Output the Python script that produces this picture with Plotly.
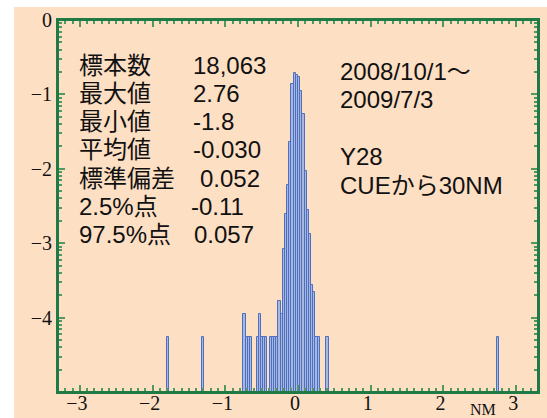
import math
import plotly.graph_objects as go

# Sample size and histogram of the deviation (NM), 0.03 NM bins
N_SAMPLES = 18063
BIN_WIDTH = 0.03
bin_start = [-1.80, -1.32,
             -0.75, -0.72, -0.69, -0.66, -0.57, -0.54, -0.51, -0.48, -0.45,
             -0.39, -0.36, -0.33, -0.30, -0.27, -0.24, -0.21, -0.18, -0.15,
             -0.12, -0.09, -0.06, -0.03, 0.00, 0.03, 0.06, 0.09, 0.12, 0.15,
             0.18, 0.21, 0.24, 0.27, 0.39, 2.73]
bin_count = [1, 1,
             2, 1, 1, 1, 1, 2, 1, 1, 1,
             1, 1, 1, 1, 3, 2, 15, 45, 110,
             420, 2500, 3470, 3300, 3070, 2000, 1000, 170, 50, 24,
             5, 4, 1, 1, 1, 1]

# Summary statistics block
stat_labels = ["標本数", "最大値", "最小値", "平均値", "標準偏差", "2.5%点", "97.5%点"]
stat_values = ["18,063", "2.76", "-1.8", "-0.030", "0.052", "-0.11", "0.057"]
note_lines = ["2008/10/1～", "2009/7/3", "", "Y28", "CUEから30NM"]

# y axis: log10 of relative frequency
y_exponents = [0, -1, -2, -3, -4]
LOG_FLOOR = -5

W, H = 547, 418
ML, MR, MT, MB = 58, 9, 20, 26
PW, PH = W - ML - MR, H - MT - MB


def px_x(px):
    return (px - ML) / PW


def px_y(py):
    return (H - MB - py) / PH


centers = [s + BIN_WIDTH / 2 for s in bin_start]
log_freq = [math.log10(c / N_SAMPLES) for c in bin_count]
# bars rise from the bottom of the log scale
bar_len = [v - LOG_FLOOR for v in log_freq]

# minor log ticks: 2..9 within each decade
minor_log = [e + math.log10(k) for e in range(LOG_FLOOR, 0) for k in range(2, 10)]

AXIS_GREEN = "#1f7a45"
TICK_GREEN = "#4f9a60"
PEACH = "#FDDFC4"
TEXT_FONT = "Liberation Sans, Noto Sans CJK JP, sans-serif"
TICK_FONT = dict(family="Liberation Serif, DejaVu Serif, serif", size=20, color="#111111")

fig = go.Figure()
fig.add_trace(go.Bar(
    x=centers,
    y=bar_len,
    base=LOG_FLOOR,
    width=BIN_WIDTH,
    marker=dict(color="#A7B7DE", line=dict(color="#4D6FC2", width=1)),
    showlegend=False,
))

annotations = []
value_nudge = [0, 0, 0, 0, 7, -2, 1]
for i, (lab, val) in enumerate(zip(stat_labels, stat_values)):
    yc = 65 + 28.3 * i
    annotations.append(dict(x=px_x(77), y=px_y(yc), xref="paper", yref="paper",
                            text=lab, showarrow=False, xanchor="left", yanchor="middle",
                            font=dict(family=TEXT_FONT, size=24, color="#111111")))
    annotations.append(dict(x=px_x(191 + value_nudge[i]), y=px_y(yc), xref="paper", yref="paper",
                            text=val, showarrow=False, xanchor="left", yanchor="middle",
                            font=dict(family=TEXT_FONT, size=24, color="#111111")))
for i, line in enumerate(note_lines):
    if not line:
        continue
    yc = 71.5 + 28.4 * i
    annotations.append(dict(x=px_x(338), y=px_y(yc), xref="paper", yref="paper",
                            text=line, showarrow=False, xanchor="left", yanchor="middle",
                            font=dict(family=TEXT_FONT, size=24, color="#111111")))
annotations.append(dict(x=px_x(483), y=px_y(409), xref="paper", yref="paper",
                        text="NM", showarrow=False, xanchor="center", yanchor="middle",
                        font=dict(family="Liberation Serif, DejaVu Serif, serif", size=16,
                                  color="#111111")))

shapes = [
    # white page strips along the left and top edges
    dict(type="rect", xref="paper", yref="paper", layer="above",
         x0=px_x(-2), x1=px_x(14), y0=px_y(H + 2), y1=px_y(-2),
         fillcolor="white", line=dict(width=0)),
    dict(type="rect", xref="paper", yref="paper", layer="above",
         x0=px_x(-2), x1=px_x(W + 2), y0=px_y(7), y1=px_y(-2),
         fillcolor="white", line=dict(width=0)),
    # plot frame
    dict(type="rect", xref="paper", yref="paper", layer="above",
         x0=0, x1=1, y0=0, y1=1,
         fillcolor="rgba(0,0,0,0)", line=dict(color=AXIS_GREEN, width=2)),
]

fig.update_layout(
    width=W, height=H,
    margin=dict(l=ML, r=MR, t=MT, b=MB, autoexpand=False),
    paper_bgcolor=PEACH,
    plot_bgcolor=PEACH,
    bargap=0,
    annotations=annotations,
    shapes=shapes,
)

fig.update_xaxes(
    range=[-3.3, 3.3], tick0=0, dtick=1, automargin=False,
    showline=True, linecolor=AXIS_GREEN, linewidth=2, mirror="allticks",
    ticks="inside", ticklen=7, tickwidth=1.5, tickcolor=TICK_GREEN,
    tickfont=TICK_FONT, ticklabelstandoff=-8, ticklabelshift=-3,
    showgrid=False, zeroline=False,
    minor=dict(ticks="inside", ticklen=4, tickwidth=1.5, tick0=0, dtick=0.1,
               tickcolor=TICK_GREEN, showgrid=False),
)
fig.update_yaxes(
    range=[LOG_FLOOR, 0], automargin=False,
    tickmode="array",
    tickvals=y_exponents,
    ticktext=[str(e).replace("-", "\u2212") for e in y_exponents],
    showline=True, linecolor=AXIS_GREEN, linewidth=2, mirror="allticks",
    ticks="inside", ticklen=7, tickwidth=1.5, tickcolor=TICK_GREEN,
    tickfont=TICK_FONT,
    showgrid=False, zeroline=False,
    minor=dict(ticks="inside", ticklen=4, tickwidth=1.5, tickmode="array",
               tickvals=minor_log, tickcolor=TICK_GREEN, showgrid=False),
)

fig.write_html("out.html")
